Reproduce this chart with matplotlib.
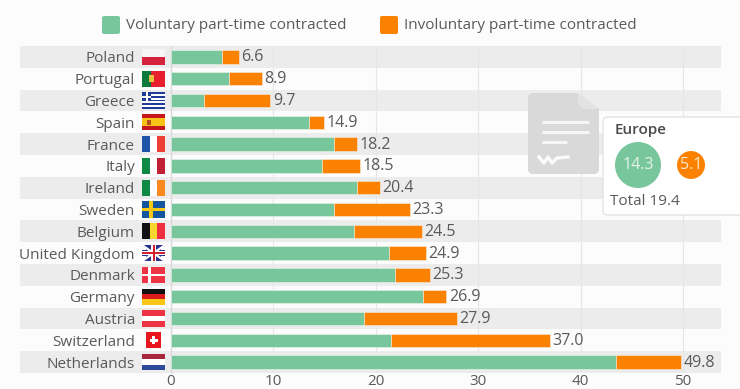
import matplotlib
matplotlib.use("Agg")
import matplotlib.pyplot as plt
from matplotlib.patches import Rectangle, FancyBboxPatch, Circle, Polygon

plt.rcParams['font.family'] = ['Open Sans', 'DejaVu Sans']

countries = ['Poland', 'Portugal', 'Greece', 'Spain', 'France', 'Italy', 'Ireland', 'Sweden',
             'Belgium', 'United Kingdom', 'Denmark', 'Germany', 'Austria', 'Switzerland', 'Netherlands']
voluntary = [5.0, 5.7, 3.2, 13.5, 15.9, 14.7, 18.2, 15.9, 17.9, 21.3, 21.9, 24.6, 18.8, 21.5, 43.5]
totals = [6.6, 8.9, 9.7, 14.9, 18.2, 18.5, 20.4, 23.3, 24.5, 24.9, 25.3, 26.9, 27.9, 37.0, 49.8]
involuntary = [round(t - v, 1) for t, v in zip(totals, voluntary)]
xticks = [0, 10, 20, 30, 40, 50]

GREEN = '#78c69c'
ORANGE = '#fb8200'
TEXT = '#5a5a5a'
BG = '#fcfcfc'
BAND = '#ececec'

fig = plt.figure(figsize=(7.4, 3.89), dpi=100, facecolor=BG)
# axes box in pixels: x 171..721, y 46..373
ax = fig.add_axes([171 / 740, 1 - 373 / 389, 550 / 740, 327 / 389], facecolor='none')
ax.set_xlim(0, 550 / 10.24)
ax.set_ylim(14.5, -0.5)

for i in range(0, len(countries), 2):
    ax.add_patch(Rectangle((-151 / 10.24, i - 0.5), 701 / 10.24, 1, fc=BAND, ec='none',
                           clip_on=False, zorder=0))

ax.barh(countries, voluntary, height=0.62, color=GREEN, edgecolor='#eef5ee', linewidth=0.4, zorder=3)
ax.barh(countries, involuntary, left=voluntary, height=0.62, color=ORANGE, edgecolor='#f5ece0',
        linewidth=0.4, zorder=3)
for i, t in enumerate(totals):
    ax.text(t + 0.25, i + 0.02, f'{t:.1f}', va='center', ha='left', fontsize=11.5, color=TEXT, zorder=4)

ax.set_xticks(xticks)
ax.grid(axis='x', color='#e6e6e6', linewidth=0.8, zorder=1)
ax.set_axisbelow(True)
for s in ['top', 'right', 'bottom']:
    ax.spines[s].set_visible(False)
ax.spines['left'].set_color('#d8d8d8')
ax.spines['left'].set_linewidth(1)
ax.tick_params(axis='x', length=0, labelsize=11, labelcolor=TEXT, pad=1)
ax.tick_params(axis='y', length=0, labelsize=11, labelcolor=TEXT, pad=26)


def px(x):
    return (x - 171) / 10.24


def box(i, x0, x1, y0, y1, color):
    # x in pixels, y as fraction of the flag height
    top = i - 0.37
    ax.add_patch(Rectangle((px(x0), top + y0 * 0.74), (x1 - x0) / 10.24, (y1 - y0) * 0.74,
                           fc=color, ec='none', clip_on=False, zorder=5))


L, R = 142, 165
W = R - L


def vstripes(i, cols):
    for k, c in enumerate(cols):
        box(i, L + W * k / len(cols), L + W * (k + 1) / len(cols), 0, 1, c)


def hstripes(i, cols):
    for k, c in enumerate(cols):
        box(i, L, R, k / len(cols), (k + 1) / len(cols), c)


hstripes(0, ['#f6f6f6', '#d5233e'])
box(1, L, L + 9, 0, 1, '#0b7a3c')
box(1, L + 9, R, 0, 1, '#e8202e')
box(1, L + 7, L + 12, 0.3, 0.7, '#e8c040')
hstripes(2, ['#1f3a9a', '#ffffff'] * 4 + ['#1f3a9a'])
box(2, L, L + 9, 0, 5 / 9, '#1f3a9a')
box(2, L, L + 9, 2 / 9, 3 / 9, '#ffffff')
box(2, L + 3.5, L + 5.5, 0, 5 / 9, '#ffffff')
hstripes(3, ['#c4161c', '#f7c417', '#f7c417', '#c4161c'])
box(3, L + 5, L + 9, 0.35, 0.65, '#b8501a')
vstripes(4, ['#1f55a8', '#ffffff', '#ef3e33'])
vstripes(5, ['#0e8a45', '#ffffff', '#bf2033'])
vstripes(6, ['#0e8a45', '#ffffff', '#fb8a1e'])
box(7, L, R, 0, 1, '#14559f')
box(7, L, R, 0.4, 0.6, '#f8c90f')
box(7, L + 7, L + 11, 0, 1, '#f8c90f')
vstripes(8, ['#111111', '#f8d82c', '#ee2f3f'])
box(9, L, R, 0, 1, '#27338f')
for a, b in [(L, L + 4), (L + 19, R)]:
    box(9, a, b, 0.1, 0.3, '#ffffff')
    box(9, a, b, 0.7, 0.9, '#ffffff')
ax.plot([px(L), px(R)], [9 - 0.37, 9 + 0.37], color='white', lw=1.6, clip_on=False, zorder=6)
ax.plot([px(L), px(R)], [9 + 0.37, 9 - 0.37], color='white', lw=1.6, clip_on=False, zorder=6)
ax.add_patch(Rectangle((px(L), 9 - 0.1), W / 10.24, 0.2, fc='#ffffff', ec='none', clip_on=False, zorder=7))
ax.add_patch(Rectangle((px(L + 9), 9 - 0.37), 5 / 10.24, 0.74, fc='#ffffff', ec='none', clip_on=False, zorder=7))
ax.add_patch(Rectangle((px(L), 9 - 0.05), W / 10.24, 0.1, fc='#d31f2e', ec='none', clip_on=False, zorder=8))
ax.add_patch(Rectangle((px(L + 10.5), 9 - 0.37), 2 / 10.24, 0.74, fc='#d31f2e', ec='none', clip_on=False, zorder=8))
box(10, L, R, 0, 1, '#ee3344')
box(10, L, R, 0.42, 0.58, '#ffffff')
box(10, L + 6, L + 9, 0, 1, '#ffffff')
hstripes(11, ['#111111', '#dd1c1c', '#fbc515'])
hstripes(12, ['#ee3344', '#ffffff', '#ee3344'])
box(13, 146, 161, 0, 1, '#e8141e')
box(13, 152, 155, 0.25, 0.75, '#ffffff')
box(13, 149.5, 157.5, 0.4, 0.6, '#ffffff')
hstripes(14, ['#a8273c', '#ffffff', '#2b4a9a'])

# overlay in pixel coordinates for legend, watermark and callout
ov = fig.add_axes([0, 0, 1, 1], facecolor='none')
ov.set_xlim(0, 740)
ov.set_ylim(389, 0)
ov.axis('off')
ov.set_zorder(5)

ov.add_patch(FancyBboxPatch((102, 16), 18, 18, boxstyle='round,pad=0,rounding_size=2', fc=GREEN, ec='none'))
ov.text(126, 25, 'Voluntary part-time contracted', fontsize=11, color=TEXT, va='center', ha='left')
ov.add_patch(FancyBboxPatch((380, 16), 18, 18, boxstyle='round,pad=0,rounding_size=2', fc=ORANGE, ec='none'))
ov.text(404, 25, 'Involuntary part-time contracted', fontsize=11, color=TEXT, va='center', ha='left')

# document watermark
ICON = '#d9d9d9'
ov.add_patch(Polygon([(531, 93), (578, 93), (599, 109), (599, 171), (596, 174), (531, 174), (528, 171), (528, 96)],
                     closed=True, fc=ICON, ec='none'))
ov.add_patch(Polygon([(578, 93), (599, 109), (583, 109), (578, 104)], closed=True, fc='#e3e3e3', ec='none'))
for y, x1 in [(121.5, 589), (132, 589), (142, 567)]:
    ov.plot([542, x1], [y, y], color='#f6f6f6', lw=2.2, solid_capstyle='butt')
ov.plot([539, 544, 548, 552, 557, 568], [157, 163, 157, 163, 158, 157], color='#fafafa', lw=2.4)

# callout
ov.add_patch(FancyBboxPatch((603, 117), 150, 98, boxstyle='round,pad=0,rounding_size=5', fc='#ffffff',
                            ec='#dddddd', lw=0.8))
ov.text(615, 130, 'Europe', fontsize=11, color='#4a4a4a', va='center', ha='left', fontweight='semibold')
ov.add_patch(Circle((638, 165), 23, fc=GREEN, ec='none'))
ov.text(638, 165, '14.3', fontsize=11.5, color='#e4f3ea', va='center', ha='center')
ov.add_patch(Circle((691, 165), 14, fc=ORANGE, ec='none'))
ov.text(691, 165, '5.1', fontsize=11.5, color='#fde4c8', va='center', ha='center')
ov.text(610, 201, 'Total 19.4', fontsize=11, color=TEXT, va='center', ha='left')

fig.savefig('out.png', dpi=100, facecolor=BG)
